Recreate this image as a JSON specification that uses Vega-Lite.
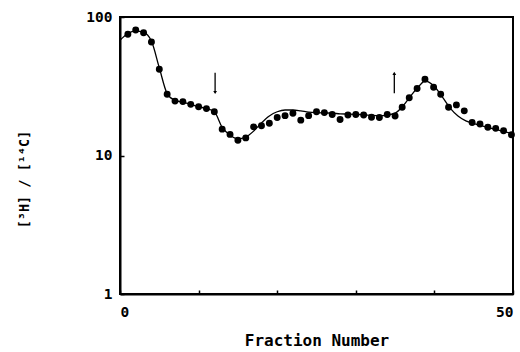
{
  "$schema": "https://vega.github.io/schema/vega-lite/v6.json",
  "width": 393,
  "height": 277,
  "autosize": {"type": "none"},
  "padding": {"left": 120, "top": 17, "right": 7, "bottom": 58},
  "background": "white",
  "config": {
    "view": {"stroke": "black", "strokeWidth": 2},
    "axis": {
      "domainColor": "black", "domainWidth": 2,
      "tickColor": "black", "tickWidth": 1.5, "tickSize": -4,
      "labelFont": "DejaVu Sans Mono", "labelFontWeight": "bold", "labelFontSize": 14.5, "labelColor": "black",
      "titleFont": "DejaVu Sans Mono", "titleFontWeight": "bold", "titleFontSize": 16, "titleColor": "black",
      "grid": false
    }
  },
  "datasets": {
    "points": [
      {"fraction": 1, "ratio": 75}, {"fraction": 2, "ratio": 80.5}, {"fraction": 3, "ratio": 77}, {"fraction": 4, "ratio": 66},
      {"fraction": 5, "ratio": 42}, {"fraction": 6, "ratio": 27.7}, {"fraction": 7, "ratio": 24.7}, {"fraction": 8, "ratio": 24.5},
      {"fraction": 9, "ratio": 23.4}, {"fraction": 10, "ratio": 22.5}, {"fraction": 11, "ratio": 21.8}, {"fraction": 12, "ratio": 20.7},
      {"fraction": 13, "ratio": 15.5}, {"fraction": 14, "ratio": 14.2}, {"fraction": 15, "ratio": 12.9}, {"fraction": 16, "ratio": 13.4},
      {"fraction": 17, "ratio": 16.1}, {"fraction": 18, "ratio": 16.4}, {"fraction": 19, "ratio": 17.1}, {"fraction": 20, "ratio": 18.8},
      {"fraction": 21, "ratio": 19.4}, {"fraction": 22, "ratio": 20.2}, {"fraction": 23, "ratio": 18.0}, {"fraction": 24, "ratio": 19.4},
      {"fraction": 25, "ratio": 20.7}, {"fraction": 26, "ratio": 20.4}, {"fraction": 27, "ratio": 19.8}, {"fraction": 28, "ratio": 18.2},
      {"fraction": 29, "ratio": 19.6}, {"fraction": 30, "ratio": 19.8}, {"fraction": 31, "ratio": 19.6}, {"fraction": 32, "ratio": 18.9},
      {"fraction": 33, "ratio": 18.8}, {"fraction": 34, "ratio": 19.8}, {"fraction": 35, "ratio": 19.3}, {"fraction": 35.9, "ratio": 22.3},
      {"fraction": 36.8, "ratio": 26.1}, {"fraction": 37.8, "ratio": 30.5}, {"fraction": 38.8, "ratio": 35.5}, {"fraction": 39.9, "ratio": 31.1},
      {"fraction": 40.8, "ratio": 27.7}, {"fraction": 41.8, "ratio": 22.3}, {"fraction": 42.8, "ratio": 23.2}, {"fraction": 43.8, "ratio": 21.0},
      {"fraction": 44.8, "ratio": 17.3}, {"fraction": 45.8, "ratio": 16.9}, {"fraction": 46.8, "ratio": 16.0}, {"fraction": 47.8, "ratio": 15.7},
      {"fraction": 48.8, "ratio": 15.1}, {"fraction": 49.8, "ratio": 14.1}
    ],
    "curve": [
      {"fraction": 0, "ratio": 68}, {"fraction": 1, "ratio": 76}, {"fraction": 2, "ratio": 79}, {"fraction": 3, "ratio": 77.5},
      {"fraction": 4, "ratio": 67}, {"fraction": 5, "ratio": 43}, {"fraction": 6, "ratio": 28}, {"fraction": 7, "ratio": 25},
      {"fraction": 8, "ratio": 24.3}, {"fraction": 9, "ratio": 23.4}, {"fraction": 10, "ratio": 22.5}, {"fraction": 11, "ratio": 21.8},
      {"fraction": 12, "ratio": 20.7}, {"fraction": 13, "ratio": 16}, {"fraction": 14, "ratio": 14}, {"fraction": 15, "ratio": 13.2},
      {"fraction": 16, "ratio": 13.6}, {"fraction": 17, "ratio": 15}, {"fraction": 18, "ratio": 17.2}, {"fraction": 19, "ratio": 19.3},
      {"fraction": 20, "ratio": 20.7}, {"fraction": 21, "ratio": 21.3}, {"fraction": 22, "ratio": 21.3}, {"fraction": 23, "ratio": 21},
      {"fraction": 24, "ratio": 20.6}, {"fraction": 25, "ratio": 20.4}, {"fraction": 26, "ratio": 20.3}, {"fraction": 27, "ratio": 20.2},
      {"fraction": 28, "ratio": 20}, {"fraction": 29, "ratio": 19.9}, {"fraction": 30, "ratio": 19.8}, {"fraction": 31, "ratio": 19.7},
      {"fraction": 32, "ratio": 19.5}, {"fraction": 33, "ratio": 19.4}, {"fraction": 34, "ratio": 19.6}, {"fraction": 35, "ratio": 20.2},
      {"fraction": 36, "ratio": 22.8}, {"fraction": 37, "ratio": 27}, {"fraction": 38, "ratio": 31.5}, {"fraction": 38.8, "ratio": 34.5},
      {"fraction": 40, "ratio": 31.5}, {"fraction": 41, "ratio": 26.5}, {"fraction": 42, "ratio": 22}, {"fraction": 43, "ratio": 19.3},
      {"fraction": 44, "ratio": 17.8}, {"fraction": 45, "ratio": 17}, {"fraction": 46, "ratio": 16.4}, {"fraction": 47, "ratio": 15.8},
      {"fraction": 48, "ratio": 15.3}, {"fraction": 49, "ratio": 14.8}, {"fraction": 50, "ratio": 14.4}
    ],
    "arrows": [
      {"fraction": 12.1, "tail": 39.5, "tip": 28.5, "shape": "triangle-down"},
      {"fraction": 34.9, "tail": 28.2, "tip": 39.2, "shape": "triangle-up"}
    ]
  },
  "layer": [
    {
      "data": {"name": "curve"},
      "mark": {"type": "line", "color": "black", "strokeWidth": 1.3, "interpolate": "monotone"},
      "encoding": {
        "x": {"field": "fraction", "type": "quantitative",
              "scale": {"domain": [0, 50], "nice": false},
              "axis": {"values": [0, 10, 20, 30, 40, 50], "labelExpr": "datum.value == 0 || datum.value == 50 ? datum.label : ''",
                       "labelPadding": 15, "title": "Fraction Number", "titlePadding": 14}},
        "y": {"field": "ratio", "type": "quantitative",
              "scale": {"type": "log", "domain": [1, 100], "nice": false},
              "axis": {"values": [1, 10, 100], "format": "d", "labelPadding": 12,
                       "title": "[³H] / [¹⁴C]", "titleFontSize": 13.5, "titlePadding": 54, "titleY": 162}}
      }
    },
    {
      "data": {"name": "points"},
      "mark": {"type": "circle", "color": "black", "opacity": 1, "size": 48},
      "encoding": {
        "x": {"field": "fraction", "type": "quantitative"},
        "y": {"field": "ratio", "type": "quantitative"}
      }
    },
    {
      "data": {"name": "arrows"},
      "mark": {"type": "rule", "color": "black", "strokeWidth": 1.3},
      "encoding": {
        "x": {"field": "fraction", "type": "quantitative"},
        "y": {"field": "tail", "type": "quantitative"},
        "y2": {"field": "tip"}
      }
    },
    {
      "data": {"name": "arrows"},
      "mark": {"type": "point", "filled": true, "color": "black", "opacity": 1, "size": 14},
      "encoding": {
        "x": {"field": "fraction", "type": "quantitative"},
        "y": {"field": "tip", "type": "quantitative"},
        "shape": {"field": "shape", "type": "nominal", "scale": null, "legend": null}
      }
    }
  ]
}
